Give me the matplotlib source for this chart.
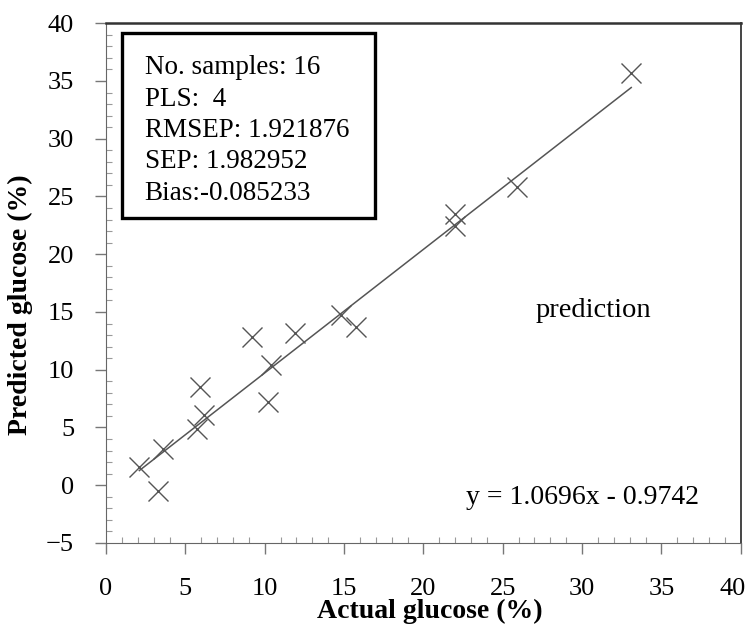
"""
Predicted against actual glucose for the prediction set, with the fitted line and run stats
"""

import matplotlib

matplotlib.use("Agg")  # Render without a display
import matplotlib.pyplot as plt
import matplotlib.transforms as mtransforms
import numpy as np
from matplotlib.patches import Rectangle
from matplotlib.ticker import MultipleLocator

# Values
actual = [2.1, 3.3, 3.6, 5.75, 5.9, 6.2, 9.2, 10.2, 10.4, 11.9, 14.8, 15.75, 22.0, 22.0, 25.9, 33.1]
predicted = [1.6, -0.5, 3.1, 4.9, 8.5, 6.1, 12.8, 7.2, 10.4, 13.2, 14.7, 13.7, 23.5, 22.4, 25.8, 35.7]
slope, intercept = 1.0696, -0.9742
stats_lines = ["No. samples: 16", "PLS:  4", "RMSEP: 1.921876", "SEP: 1.982952", "Bias:-0.085233"]
x_ticks = [0, 5, 10, 15, 20, 25, 30, 35, 40]
y_ticks = [-5, 0, 5, 10, 15, 20, 25, 30, 35, 40]

plt.rcParams["font.family"] = ["Liberation Serif", "DejaVu Serif"]

fig = plt.figure(figsize=(7.52, 6.27), dpi=100)
ax = fig.add_axes([0.141, 0.134, 0.844, 0.829])

gray = "#555555"
ax.plot(actual, predicted, linestyle="none", marker="x", markersize=14, markeredgewidth=1.0, color=gray)
xs = np.array([min(actual), max(actual)])
ax.plot(xs, slope * xs + intercept, color=gray, linewidth=1.1)

ax.set_xlim(x_ticks[0], x_ticks[-1])
ax.set_ylim(y_ticks[0], y_ticks[-1])
ax.set_xticks(x_ticks)
ax.set_yticks(y_ticks)
ax.xaxis.set_minor_locator(MultipleLocator(1))
ax.yaxis.set_minor_locator(MultipleLocator(1))
ax.tick_params(which="major", direction="out", length=8, width=1, color="#777777", labelsize=19)
ax.tick_params(axis="y", which="major", pad=15)
ax.tick_params(axis="x", which="major", pad=17)
ax.tick_params(which="minor", direction="in", length=4, width=0.8, color="#999999")
for side in ("left", "bottom"):
    ax.spines[side].set_color("#666666")
ax.spines["top"].set_linewidth(1.8)
ax.spines["top"].set_color("#333333")
ax.spines["right"].set_linewidth(1.4)
ax.spines["right"].set_color("#444444")

# The last x tick label sits at the right edge, nudge it in so it is not cut
last = ax.get_xticklabels()[-1]
last.set_transform(last.get_transform() + mtransforms.ScaledTranslation(-6 / 72, 0, fig.dpi_scale_trans))

ax.set_xlabel("Actual glucose (%)", fontsize=20, fontweight="bold")
ax.xaxis.set_label_coords(0.51, -0.108)
ax.set_ylabel("Predicted glucose (%)", fontsize=20, fontweight="bold")
ax.yaxis.set_label_coords(-0.115, 0.458)

# Stats box in the upper left corner
ax.add_patch(Rectangle((0.025, 0.625), 0.398, 0.356, transform=ax.transAxes, facecolor="white",
                       edgecolor="black", linewidth=2.4, zorder=3))
for i, line in enumerate(stats_lines):
    ax.text(0.061, 0.902 - 0.0605 * i, line, transform=ax.transAxes, fontsize=19.5, va="baseline",
            ha="left", zorder=4)

ax.text(30.7, 15.15, "prediction", fontsize=20.5, ha="center", va="center")
ax.text(30.05, -1.1, f"y = {slope:.4f}x - {abs(intercept):.4f}", fontsize=20, ha="center", va="center")

fig.savefig("out.png", dpi=100)
